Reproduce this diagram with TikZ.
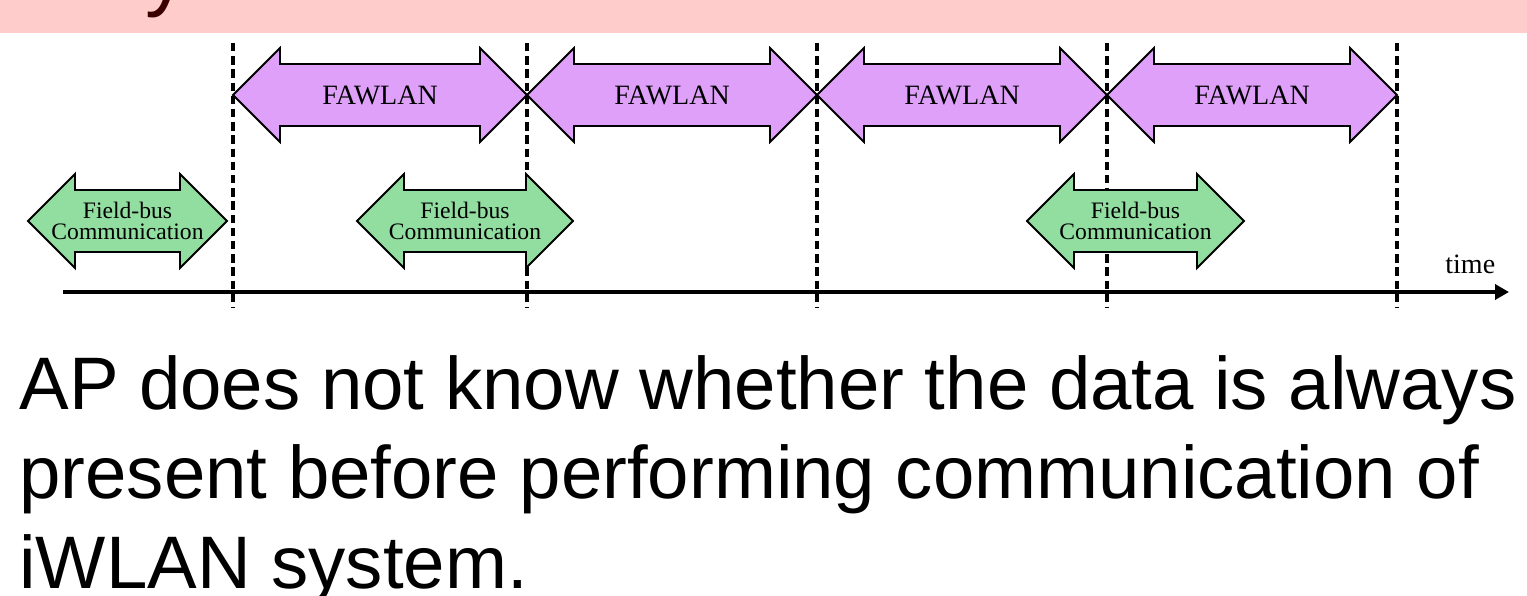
\documentclass[tikz,border=0pt]{standalone}
\usepackage{fontspec}
\setmainfont{Liberation Serif}
\newfontfamily\slidefont{Liberation Sans}
\usepackage{xcolor}
\usepackage{tikz}
\usetikzlibrary{arrows.meta}

\definecolor{bandpink}{RGB}{255,204,204}
\definecolor{titlered}{RGB}{58,0,0}
\definecolor{fawlanfill}{RGB}{223,160,250}
\definecolor{busfill}{RGB}{145,222,160}

% double-headed slot arrow: name, left tip, right tip, centre y, style, label
\newcommand{\slotarrow}[6]{%
    \filldraw[#5] (#2,#4) -- ++(47,-47) -- ++(0,16) -- ({#3-47},{#4-31})
        -- ++(0,-16) -- (#3,#4) -- ++(-47,47) -- ++(0,-16)
        -- ({#2+47},{#4+31}) -- ++(0,16) -- cycle;
    \node[#5 text] (#1) at ({(#2+#3)/2},#4) {#6};
}

\begin{document}
\begin{tikzpicture}[
        x=0.5pt, y=-0.5pt,
        band/.style={fill=bandpink},
        title/.style={font=\slidefont\fontsize{42}{48}\selectfont, text=titlered,
            anchor=base west, inner sep=0pt},
        fawlan/.style={draw=black, line width=0.9pt, fill=fawlanfill},
        fawlan text/.style={font=\fontsize{14}{16}\selectfont, inner sep=0pt},
        bus/.style={draw=black, line width=0.9pt, fill=busfill},
        bus text/.style={font=\fontsize{11.8}{10.2}\selectfont, align=center, inner sep=0pt},
        marker/.style={line width=1.9pt, dash pattern=on 4.2pt off 2.4pt},
        axis/.style={-{Triangle[length=7pt, width=7.5pt]}, line width=2pt},
        axislbl/.style={font=\fontsize{14}{16}\selectfont, anchor=base west, inner sep=0pt},
        note/.style={font=\slidefont\fontsize{37.2}{44.7}\selectfont, anchor=base west,
            inner sep=0pt}
    ]
    \useasboundingbox (0,0) rectangle (1527,595);

    % === Title bar ===
    \fill[band] (0,0) rectangle (1527,33);
    \begin{scope}
        \clip (0,0) rectangle (1527,33);
        \node[title] (ttl) at (145,0) {y};
    \end{scope}

    % === Slot boundaries ===
    \foreach \x [count=\i] in {233,527,817,1107,1397} {
        \coordinate (b\i top) at (\x,43);
        \coordinate (b\i bot) at (\x,308);
        \draw[marker] (b\i top) -- (b\i bot);
    }

    % === Time axis ===
    \coordinate (t0) at (63,292);
    \coordinate (t1) at (1509,292);
    \draw[axis] (t0) -- (t1);
    \node[axislbl] (tlbl) at (1445,273) {time};

    % === FAWLAN periods ===
    \slotarrow{fw1}{233}{527}{95}{fawlan}{FAWLAN}
    \slotarrow{fw2}{527}{817}{95}{fawlan}{FAWLAN}
    \slotarrow{fw3}{817}{1107}{95}{fawlan}{FAWLAN}
    \slotarrow{fw4}{1107}{1397}{95}{fawlan}{FAWLAN}

    % === Field-bus communication ===
    \slotarrow{fb1}{28}{227}{221}{bus}{Field-bus\\Communication}
    \slotarrow{fb2}{357}{573}{221}{bus}{Field-bus\\Communication}
    \slotarrow{fb3}{1027}{1244}{221}{bus}{Field-bus\\Communication}

    % === Remark ===
    \node[note] (note1) at (19,409) {AP does not know whether the data is always};
    \node[note] (note2) at (19,498) {present before performing communication of};
    \node[note] (note3) at (19,588) {iWLAN system.};
\end{tikzpicture}
\end{document}
